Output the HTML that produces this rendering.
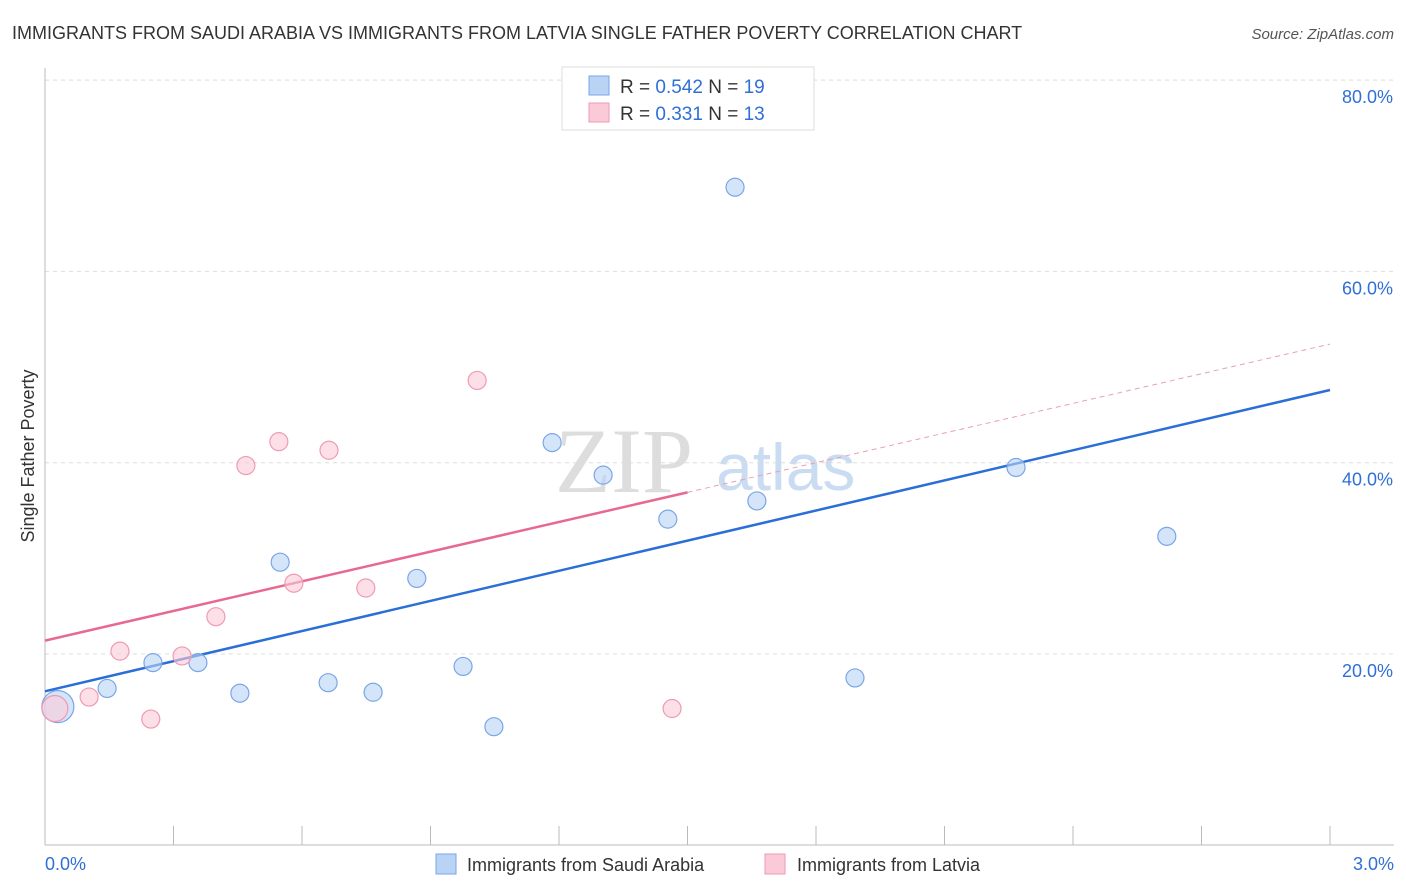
<!DOCTYPE html>
<html><head><meta charset="utf-8"><style>
body{margin:0;background:#fff;font-family:"Liberation Sans",sans-serif;}
svg{display:block}
</style></head><body>
<svg id="chart" width="1406" height="892">
<text x="12" y="39" font-size="18" fill="#333">IMMIGRANTS FROM SAUDI ARABIA VS IMMIGRANTS FROM LATVIA SINGLE FATHER POVERTY CORRELATION CHART</text>
<text x="1394" y="39" font-size="15" fill="#555" font-style="italic" text-anchor="end">Source: ZipAtlas.com</text>
<text x="34" y="456" font-size="18" fill="#333" transform="rotate(-90 34 456)" text-anchor="middle">Single Father Poverty</text>
<text x="555" y="492" font-size="92" fill="#ddd" font-family="Liberation Serif,serif">ZIP</text>
<text x="716" y="490" font-size="66" fill="#c9dcf2">atlas</text>
<g id="grid"></g><g id="axes"></g><g id="trend"></g><g id="pts"></g>
<g>
<rect x="562" y="67" width="252" height="63" fill="#fff" stroke="#ddd"/>
<rect x="589" y="76" width="20" height="19" fill="#b9d3f5" stroke="#7aa6e6"/>
<rect x="589" y="103" width="20" height="19" fill="#fbc9d7" stroke="#ef9ab4"/>
<text x="620" y="93" font-size="19" fill="#333">R = <tspan fill="#2f6fd6">0.542</tspan>   N = <tspan fill="#2f6fd6">19</tspan></text>
<text x="620" y="120" font-size="19" fill="#333">R =  <tspan fill="#2f6fd6">0.331</tspan>   N = <tspan fill="#2f6fd6">13</tspan></text>
</g>
<g>
<rect x="436" y="854" width="20" height="20" fill="#b9d3f5" stroke="#7aa6e6"/>
<text x="467" y="871" font-size="18" fill="#333">Immigrants from Saudi Arabia</text>
<rect x="765" y="854" width="20" height="20" fill="#fbc9d7" stroke="#ef9ab4"/>
<text x="797" y="871" font-size="18" fill="#333">Immigrants from Latvia</text>
</g>
</svg>
<script>
const blueX=[0.03,0.145,0.252,0.357,0.455,0.549,0.661,0.766,0.868,0.976,1.048,1.184,1.303,1.454,1.611,1.662,1.891,2.267,2.619];
const blueY=[14.5,16.4,19.1,19.1,15.9,29.6,17.0,16.0,27.9,18.7,12.4,42.1,38.7,34.1,68.8,36.0,17.5,39.5,32.3];
const pinkX=[0.023,0.103,0.175,0.247,0.320,0.399,0.469,0.546,0.581,0.663,0.749,1.009,1.464];
const pinkY=[14.3,15.5,20.3,13.2,19.8,23.9,39.7,42.2,27.4,41.3,26.9,48.6,14.3];
const blueTrend=[16.1,47.6];
const pinkTrend=[21.4,52.4];
const yTicks=[20,40,60,80];
const xTickLabels=["0.0%","3.0%"];
const NS="http://www.w3.org/2000/svg";
const sx=v=>45+v/3*1285, sy=v=>845.3-v*9.565;
function mk(tag,attrs,parent){const e=document.createElementNS(NS,tag);for(const k in attrs)e.setAttribute(k,attrs[k]);document.getElementById(parent).appendChild(e);return e;}
yTicks.forEach(t=>{
 const l=mk('line',{x1:45,x2:1394,y1:sy(t),y2:sy(t),stroke:'#ddd','stroke-dasharray':'4 4'},'grid');
 
 
 const tx=mk('text',{x:1393,y:sy(t)+23,'font-size':18,fill:'#2f6fd6','text-anchor':'end'},'grid');
 tx.textContent=t.toFixed(1)+'%';
 
 
});
mk('line',{x1:45,x2:45,y1:68,y2:845,stroke:'#bbb'},'axes');
mk('line',{x1:45,x2:1394,y1:845,y2:845,stroke:'#bbb'},'axes');
for(let i=1;i<=10;i++){const x=sx(i*0.3);mk('line',{x1:x,x2:x,y1:826,y2:845,stroke:'#bbb'},'axes');}
[[0,'start',45],[3,'end',1394]].forEach((d,i)=>{
 const t=mk('text',{x:d[2],y:870,'font-size':18,fill:'#2f6fd6','text-anchor':d[1]},'axes');
 t.textContent=xTickLabels[i];
 
 
});
const bl=mk('line',{x1:sx(0),y1:sy(blueTrend[0]),x2:sx(3),y2:sy(blueTrend[1]),stroke:'#2a6fd8','stroke-width':2.5},'trend');


const pe=1.5, pmid=pinkTrend[0]+(pinkTrend[1]-pinkTrend[0])*pe/3;
const pl=mk('line',{x1:sx(0),y1:sy(pinkTrend[0]),x2:sx(pe),y2:sy(pmid),stroke:'#e8688f','stroke-width':2.5},'trend');


const pd=mk('line',{x1:sx(pe),y1:sy(pmid),x2:sx(3),y2:sy(pinkTrend[1]),stroke:'#e8a0b4','stroke-width':1,'stroke-dasharray':'5 4'},'trend');


blueX.forEach((x,i)=>{
 const c=mk('circle',{cx:sx(x),cy:sy(blueY[i]),r:i==0?16:9,fill:'rgba(185,211,245,0.6)',stroke:'#7aa6e6','stroke-width':1.2},'pts');
 
 
});
pinkX.forEach((x,i)=>{
 const c=mk('circle',{cx:sx(x),cy:sy(pinkY[i]),r:i==0?13:9,fill:'rgba(251,201,215,0.6)',stroke:'#ef9ab4','stroke-width':1.2},'pts');
 
 
});
</script>
</body></html>
